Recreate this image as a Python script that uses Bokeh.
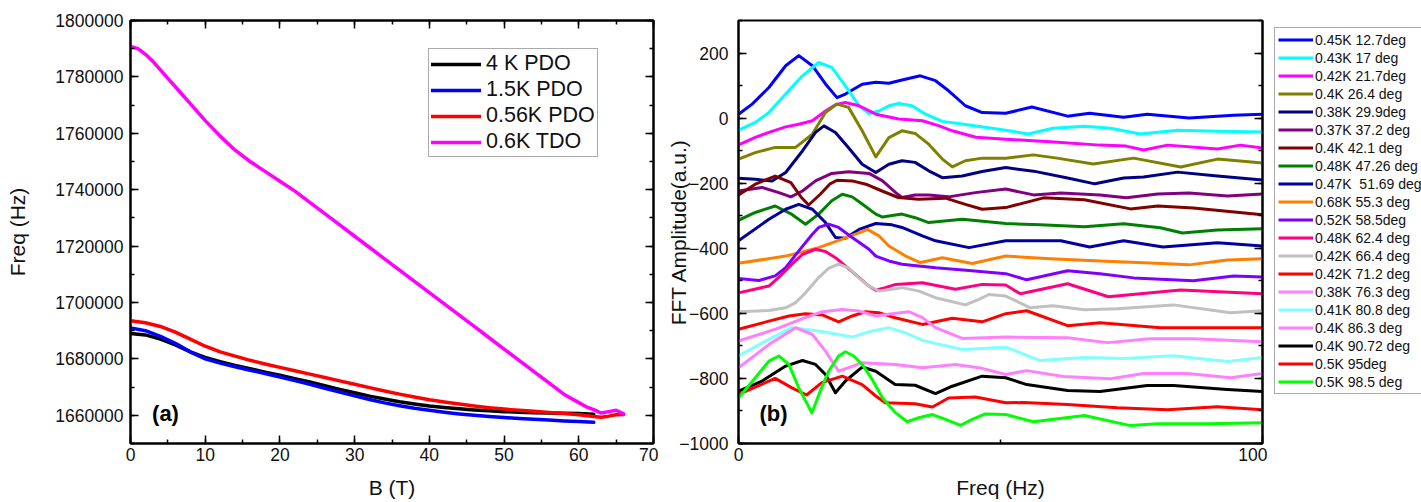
from bokeh.plotting import figure
from bokeh.models import (Range1d, LinearAxis, SingleIntervalTicker, FixedTicker,
                          Legend, LegendItem, Label, BasicTickFormatter)
from bokeh.layouts import row
from bokeh.embed import file_html
from bokeh.resources import INLINE

FONT = "Liberation Sans"

# ---------------- panel (a) data: frequency vs field ----------------
pdo4k_B = [0, 2, 4, 6, 8, 10, 12, 14, 16, 18, 20, 22, 24, 26, 28, 30, 32, 34, 36, 38,
           40, 42, 44, 46, 48, 50, 52, 54, 56, 58, 60, 62]
pdo4k_F = [1689000, 1688500, 1687000, 1685000, 1682500, 1680500, 1679000, 1677700, 1676500,
           1675300, 1674200, 1673000, 1671800, 1670500, 1669200, 1668000, 1666800, 1665800,
           1664800, 1664000, 1663300, 1662800, 1662300, 1661900, 1661600, 1661300, 1661100,
           1660900, 1660800, 1660700, 1660600, 1660400]

pdo15k_B = [0, 2, 4, 6, 8, 10, 12, 14, 16, 18, 20, 22, 24, 26, 28, 30, 32, 34, 36, 38,
            40, 42, 44, 46, 48, 50, 52, 54, 56, 58, 60, 62]
pdo15k_F = [1691000, 1690000, 1688000, 1685500, 1682500, 1680000, 1678500, 1677200, 1676000,
            1674800, 1673600, 1672300, 1671000, 1669600, 1668200, 1666900, 1665600, 1664400,
            1663400, 1662500, 1661800, 1661100, 1660500, 1660000, 1659600, 1659200, 1658900,
            1658600, 1658300, 1658000, 1657800, 1657500]

pdo056k_B = [0, 2, 4, 6, 8, 10, 12, 14, 16, 18, 20, 22, 24, 26, 28, 30, 32, 34, 36, 38,
             40, 42, 44, 46, 48, 50, 52, 54, 56, 58, 60, 62, 63, 64, 65, 66]
pdo056k_F = [1693500, 1692800, 1691500, 1689500, 1687000, 1684500, 1682500, 1681000, 1679500,
             1678200, 1677000, 1675800, 1674600, 1673400, 1672200, 1671000, 1669800, 1668600,
             1667500, 1666500, 1665500, 1664700, 1664000, 1663300, 1662700, 1662200, 1661800,
             1661400, 1661000, 1660600, 1660200, 1659600, 1659300, 1659700, 1660200, 1660300]

tdo06k_B = [0, 1, 2, 3, 4, 5, 6, 7, 8, 9, 10, 12, 14, 16, 18, 20, 22, 24, 26, 28, 30, 32,
            34, 36, 38, 40, 42, 44, 46, 48, 50, 52, 54, 56, 58, 60, 61, 62, 63, 64, 65, 66]
tdo06k_F = [1790800, 1790000, 1788000, 1785500, 1782500, 1779500, 1776500, 1773500, 1770500,
            1767500, 1764500, 1759000, 1754000, 1750000, 1746500, 1743000, 1739500, 1735500,
            1731500, 1727500, 1723500, 1719500, 1715500, 1711500, 1707500, 1703500, 1699500,
            1695500, 1691500, 1687500, 1683500, 1679500, 1675500, 1671500, 1667500, 1664500,
            1663000, 1662000, 1660800, 1661300, 1661800, 1660500]

series_a_labels = ["4 K PDO", "1.5K PDO", "0.56K PDO", "0.6K TDO"]

# ---------------- panel (b) data: FFT spectra (freq in Hz, amplitude in a.u.) ----------------
fft_f_01 = [0, 2.6, 5.8, 9, 11.5, 14.1, 16.6, 18.8, 20.4, 23.6, 26.2, 28.7, 31.2, 34.7, 37.6, 40.1,
            43.3, 46.5, 51, 56, 62.8, 67, 73.5, 78, 86, 94.5, 100]
fft_a_01 = [12, 43, 94, 161, 192, 161, 105, 63, 74, 104, 110, 107, 117, 130, 115, 84,
            38, 17, 15, 34, 6, 15, 3, 12, 0, 9, 12]
fft_f_02 = [0, 3.2, 5.8, 9, 12.2, 15.3, 17.8, 20.4, 23, 24.9, 26.8, 28.7, 30.6, 33.1, 35.7, 38.9,
            44, 51, 55.3, 60, 66, 71, 76.7, 83.8, 91.4, 100]
fft_a_02 = [-37, -13, 17, 74, 130, 171, 156, 99, 38, 14, 22, 38, 45, 38, 12, -10,
            -21, -37, -49, -31, -25, -31, -49, -37, -40, -43]
fft_f_03 = [0, 3.2, 5.8, 9, 11.5, 14.1, 16.6, 18.5, 20.4, 23, 26.2, 30.6, 35.1, 38.3, 40.8, 45.3,
            51, 59.5, 69, 74, 77.3, 81.9, 91.4, 95.8, 100]
fft_a_03 = [-82, -59, -44, -27, -19, -8, 22, 41, 48, 38, 12, -3, -8, -24, -39, -59,
            -65, -73, -83, -86, -98, -83, -95, -83, -92]
fft_f_04 = [0, 3.2, 7, 10.9, 14.1, 16.6, 18.8, 21, 23.6, 26.2, 28.7, 31.2, 33.7, 36.3, 38.9, 40.8,
            43.3, 46.5, 51, 56.3, 60.8, 67.7, 75.4, 84.4, 91.4, 100]
fft_a_04 = [-126, -106, -90, -90, -49, 17, 43, 33, -39, -119, -60, -39, -47, -80, -126, -150,
            -131, -123, -123, -113, -123, -141, -123, -150, -126, -138]
fft_f_05 = [0, 3.2, 6.4, 9, 12.2, 14.7, 16.3, 18.5, 21, 23.6, 26.2, 28.7, 31.2, 33.7, 36.3, 38.9,
            42.7, 46.5, 51, 56.3, 62.8, 68, 73.5, 77.3, 83.8, 91.4, 100]
fft_a_05 = [-185, -188, -193, -167, -101, -44, -24, -44, -91, -142, -167, -142, -131, -136, -162, -183,
            -178, -164, -152, -163, -184, -202, -184, -181, -166, -178, -190]
fft_f_06 = [0, 4.5, 7.7, 10, 12.2, 14.7, 17.8, 21, 24.9, 27.5, 30, 31.2, 33.7, 36.3, 40.1, 45.2,
            51, 56.3, 61.5, 69, 74, 80, 86, 93.3, 100]
fft_a_06 = [-224, -213, -229, -242, -224, -193, -170, -165, -170, -193, -229, -244, -236, -236, -242, -229,
            -218, -236, -230, -236, -245, -233, -230, -239, -233]
fft_f_07 = [0, 3.2, 7, 10, 12, 13.4, 15.6, 17.4, 18.8, 21.7, 24.3, 27.4, 30.5, 34.3, 39.5, 43.3,
            46.5, 51, 58.2, 66, 74.8, 80, 86.8, 100]
fft_a_07 = [-236, -203, -178, -198, -244, -267, -234, -203, -191, -193, -203, -224, -244, -249, -246, -265,
            -280, -275, -245, -251, -279, -270, -276, -297]
fft_f_08 = [0, 3.2, 7, 10.2, 12.8, 15.3, 17.8, 19.8, 21.7, 23.6, 26.2, 27.5, 31.2, 33.7, 36.3, 42.7,
            51, 57.6, 66, 73.5, 80.5, 84.7, 91.4, 100]
fft_a_08 = [-314, -290, -270, -296, -326, -295, -254, -234, -242, -264, -295, -304, -295, -306, -321, -311,
            -324, -328, -334, -325, -337, -353, -344, -340]
fft_f_09 = [0, 5.8, 9, 11.5, 14.1, 16.6, 18.5, 20.4, 23, 26.2, 29.3, 31.2, 35.1, 37.6, 44, 51,
            61.5, 67, 73.5, 81, 91.4, 100]
fft_a_09 = [-377, -311, -280, -265, -280, -321, -367, -369, -342, -324, -328, -336, -362, -377, -398, -377,
            -377, -396, -377, -396, -383, -393]
fft_f_10 = [0, 9, 15.3, 19.8, 23.6, 24.6, 26.8, 28.7, 31.9, 34.7, 38.9, 44.6, 51, 59.5, 69, 78.6,
            86, 93.3, 100]
fft_a_10 = [-446, -424, -398, -372, -349, -342, -362, -393, -424, -444, -429, -447, -424, -432, -439, -445,
            -451, -436, -432]
fft_f_11 = [0, 3.9, 7, 9, 11.5, 14.1, 15.3, 17.2, 19.1, 21.7, 24.9, 26.2, 28.7, 31.2, 37.6, 44,
            51, 55, 62.8, 69, 75.4, 86.8, 94.5, 100]
fft_a_11 = [-493, -499, -485, -460, -408, -357, -336, -326, -336, -367, -403, -424, -439, -449, -460, -468,
            -478, -497, -469, -478, -491, -500, -485, -488]
fft_f_12 = [0, 5.8, 8.3, 10.2, 12.2, 14.7, 16.6, 18.5, 20.4, 22.3, 24.9, 26.2, 28, 30, 35.1, 41.4,
            46.5, 51, 53.8, 62.8, 70.6, 76.7, 84.4, 100]
fft_a_12 = [-537, -516, -480, -449, -419, -403, -410, -429, -454, -480, -516, -529, -521, -511, -506, -526,
            -511, -513, -540, -509, -549, -540, -528, -540]
fft_f_13 = [0, 5.8, 9, 10.9, 12.8, 15.3, 17.2, 19.1, 21, 22.9, 24.9, 26.8, 29.3, 31.2, 34.3, 37.6,
            43.3, 45.9, 47.8, 51, 55.7, 60, 66, 72.3, 83, 93.9, 100]
fft_a_13 = [-595, -591, -583, -567, -537, -490, -462, -449, -460, -490, -516, -531, -526, -521, -531, -552,
            -574, -557, -542, -547, -583, -577, -589, -586, -574, -598, -592]
fft_f_14 = [0, 5.8, 9.6, 12.8, 16, 19.1, 21.7, 24.2, 26.8, 29.3, 35.1, 40.8, 46.5, 51, 55, 62.8,
            69, 80.5, 89.5, 100]
fft_a_14 = [-649, -624, -608, -601, -605, -626, -608, -595, -598, -611, -634, -615, -626, -601, -592, -638,
            -629, -644, -644, -644]
fft_f_15 = [0, 7, 12.2, 16, 19.8, 23, 26.2, 29.3, 32.5, 35.1, 37.6, 42.7, 51, 62.8, 70.4, 78.6,
            86.8, 100]
fft_a_15 = [-685, -649, -616, -595, -588, -593, -608, -601, -595, -613, -644, -677, -673, -675, -690, -678,
            -678, -687]
fft_f_16 = [0, 5.8, 10.2, 15.3, 21.7, 25.5, 28.7, 31.9, 35.1, 42.7, 51, 57.6, 66, 73.5, 83, 93.3, 100]
fft_a_16 = [-731, -680, -644, -654, -673, -654, -644, -660, -683, -711, -704, -745, -736, -739, -730, -748, -736]
fft_f_17 = [0, 5.8, 10.9, 14.1, 16.6, 19.1, 21, 23.6, 29.9, 35.1, 41.4, 46.5, 51, 55, 62, 71,
            77.3, 85.7, 93.9, 100]
fft_a_17 = [-767, -696, -644, -665, -716, -778, -767, -752, -757, -767, -757, -769, -788, -776, -794, -801,
            -785, -785, -798, -785]
fft_f_18 = [0, 4.5, 9, 12.2, 14.7, 16.6, 18.5, 20.4, 23.6, 26.2, 29.9, 33.7, 37.6, 40.8, 46.5, 51,
            55, 62.8, 69, 78, 83, 93.3, 100]
fft_a_18 = [-839, -808, -762, -745, -757, -788, -844, -808, -765, -778, -819, -821, -847, -824, -793, -798,
            -819, -837, -840, -822, -822, -834, -840]
fft_f_19 = [0, 7, 10.2, 13, 15.9, 19.8, 23.6, 26.2, 28, 33.7, 37, 40.1, 45.2, 51, 54.4, 62.8,
            72.3, 81.9, 91.4, 100]
fft_a_19 = [-849, -800, -829, -851, -813, -793, -819, -854, -875, -878, -888, -860, -857, -875, -874, -880,
            -890, -896, -887, -896]
fft_f_20 = [0, 3.2, 5.8, 7.7, 9.6, 11.5, 14, 15.6, 17.2, 19.1, 20.4, 22, 23.6, 25.5, 27.5, 30,
            32.2, 34.4, 37, 39.5, 42.4, 44.6, 47.1, 51, 56.3, 66, 74.8, 80, 89.5, 100]
fft_a_20 = [-860, -798, -747, -731, -757, -829, -906, -839, -778, -731, -718, -731, -757, -803, -860, -906,
            -933, -921, -911, -926, -944, -926, -909, -911, -933, -914, -945, -939, -939, -936]

fft_labels = ["0.45K 12.7deg", "0.43K 17 deg", "0.42K 21.7deg", "0.4K 26.4 deg",
              "0.38K 29.9deg", "0.37K 37.2 deg", "0.4K 42.1 deg", "0.48K 47.26 deg",
              "0.47K  51.69 deg", "0.68K 55.3 deg", "0.52K 58.5deg", "0.48K 62.4 deg",
              "0.42K 66.4 deg", "0.42K 71.2 deg", "0.38K 76.3 deg", "0.41K 80.8 deg",
              "0.4K 86.3 deg", "0.4K 90.72 deg", "0.5K 95deg", "0.5K 98.5 deg"]

# styles
colors_a = ["#000000", "#0000FF", "#FF0000", "#FF00FF"]
colors_b = ["#0000FF", "#00FFFF", "#FF00FF", "#808000", "#000080", "#800080", "#800000",
            "#008000", "#0000A0", "#FF8000", "#8000FF", "#FF0080", "#C0C0C0", "#FF0000",
            "#FF80FF", "#80FFFF", "#FF80FF", "#000000", "#FF0000", "#00FF00"]

fft_f = [fft_f_01, fft_f_02, fft_f_03, fft_f_04, fft_f_05, fft_f_06, fft_f_07, fft_f_08,
         fft_f_09, fft_f_10, fft_f_11, fft_f_12, fft_f_13, fft_f_14, fft_f_15, fft_f_16,
         fft_f_17, fft_f_18, fft_f_19, fft_f_20]
fft_a = [fft_a_01, fft_a_02, fft_a_03, fft_a_04, fft_a_05, fft_a_06, fft_a_07, fft_a_08,
         fft_a_09, fft_a_10, fft_a_11, fft_a_12, fft_a_13, fft_a_14, fft_a_15, fft_a_16,
         fft_a_17, fft_a_18, fft_a_19, fft_a_20]

TOP, FRAME_H, BOTTOM = 20, 423, 59


def style_axis(ax, ticker, standoff, show_labels=True):
    ax.ticker = ticker
    ax.axis_line_color = "black"
    ax.axis_line_width = 2
    ax.major_tick_in = 8
    ax.major_tick_out = 0
    ax.minor_tick_in = 4
    ax.minor_tick_out = 0
    ax.major_tick_line_width = 1.5
    ax.minor_tick_line_width = 1.5
    ax.major_label_text_font = FONT
    ax.axis_label_text_font = FONT
    ax.axis_label_text_font_size = "21px"
    ax.axis_label_text_font_style = "normal"
    ax.axis_label_text_color = "#111111"
    if show_labels:
        ax.major_label_text_font_size = "17.5px"
        ax.major_label_text_color = "#111111"
        ax.major_label_standoff = standoff
    else:
        ax.major_label_text_font_size = "0px"
        ax.major_label_text_color = None
        ax.major_label_standoff = 0


def base_fig(xr, yr, left, frame_w, right):
    p = figure(x_range=xr, y_range=yr, frame_width=frame_w, frame_height=FRAME_H,
               min_border_top=TOP, min_border_bottom=BOTTOM, min_border_left=left,
               min_border_right=right, output_backend="svg", toolbar_location=None,
               x_axis_location=None, y_axis_location=None, title=None)
    p.xgrid.visible = False
    p.ygrid.visible = False
    p.outline_line_color = "black"
    p.outline_line_width = 2
    p.background_fill_color = "white"
    p.border_fill_color = "white"
    return p


# ---------------- panel (a) ----------------
p1 = base_fig(Range1d(0, 70), Range1d(1650000, 1800000), 130, 523, 5)
xt1 = SingleIntervalTicker(interval=10, num_minor_ticks=2)
yt1 = SingleIntervalTicker(interval=20000, num_minor_ticks=2)

ax = LinearAxis(axis_label="B (T)")
style_axis(ax, xt1, 4, True)
ax.axis_label_standoff = 12
p1.add_layout(ax, "below")
ax = LinearAxis()
style_axis(ax, xt1, 0, False)
p1.add_layout(ax, "above")
ax = LinearAxis(axis_label="Freq (Hz)", formatter=BasicTickFormatter(use_scientific=False))
style_axis(ax, yt1, 7, True)
ax.axis_label_standoff = 23
p1.add_layout(ax, "left")
ax = LinearAxis()
style_axis(ax, yt1, 0, False)
p1.add_layout(ax, "right")

items_a = []
for lab, xs, ys, c in zip(series_a_labels, [pdo4k_B, pdo15k_B, pdo056k_B, tdo06k_B],
                          [pdo4k_F, pdo15k_F, pdo056k_F, tdo06k_F], colors_a):
    r = p1.line(xs, ys, line_color=c, line_width=3.5, line_join="round", line_cap="round")
    items_a.append(LegendItem(label=lab, renderers=[r]))

leg1 = Legend(items=items_a, location=(298, 286), label_text_font=FONT,
              label_text_font_size="21.5px", label_text_color="#111111",
              glyph_width=50, glyph_height=24, label_height=24, label_standoff=5,
              spacing=1, padding=2, margin=0, border_line_color="#555555",
              border_line_width=1, background_fill_alpha=1)
p1.add_layout(leg1, "center")

p1.add_layout(Label(x=35, y=30, x_units="screen", y_units="screen", text="(a)",
                    text_align="center", text_baseline="middle", text_font_style="bold",
                    text_font=FONT, text_font_size="22px", text_color="#000000"))

# ---------------- panel (b) ----------------
p2 = base_fig(Range1d(0, 100), Range1d(-1000, 300), 80, 524, 5)
xt2 = FixedTicker(ticks=[0, 100], minor_ticks=[50])
yt2 = SingleIntervalTicker(interval=200, num_minor_ticks=2)
ax = LinearAxis(axis_label="Freq (Hz)")
style_axis(ax, xt2, 4, True)
ax.axis_label_standoff = 12
p2.add_layout(ax, "below")
ax = LinearAxis(axis_label="FFT Amplitude(a.u.)")
style_axis(ax, yt2, 10, True)
ax.axis_label_standoff = -14
p2.add_layout(ax, "left")
ax = LinearAxis()
style_axis(ax, yt2, 0, False)
p2.add_layout(ax, "right")

for xs, ys, c in zip(fft_f, fft_a, colors_b):
    p2.line(xs, ys, line_color=c, line_width=3, line_join="round", line_cap="round")

p2.add_layout(Label(x=35, y=30, x_units="screen", y_units="screen", text="(b)",
                    text_align="center", text_baseline="middle", text_font_style="bold",
                    text_font=FONT, text_font_size="22px", text_color="#000000"))

# ---------------- legend strip for panel (b) ----------------
# same spectra drawn again, far outside this strip's visible range, only to key the legend
p3 = figure(frame_width=154, frame_height=FRAME_H, min_border_top=TOP,
            min_border_bottom=BOTTOM, min_border_left=0, min_border_right=0,
            x_range=Range1d(500, 600), y_range=Range1d(5000, 6000), output_backend="svg",
            toolbar_location=None, x_axis_location=None, y_axis_location=None, title=None)
p3.xgrid.visible = False
p3.ygrid.visible = False
p3.outline_line_color = None
p3.background_fill_color = "white"
p3.border_fill_color = "white"
items_b = []
for lab, xs, ys, c in zip(fft_labels, fft_f, fft_a, colors_b):
    key = p3.line(xs, ys, line_color=c, line_width=3)
    items_b.append(LegendItem(label=lab, renderers=[key]))
leg2 = Legend(items=items_b, location="top_left", label_text_font=FONT,
              label_text_font_size="14px", label_text_color="#111111",
              glyph_width=35, glyph_height=17, label_height=17, label_standoff=2,
              spacing=1, padding=3, margin=7, border_line_color="#555555",
              border_line_width=1, background_fill_alpha=1)
p3.add_layout(leg2, "center")

layout = row(p1, p2, p3)
open("out.html", "w").write(file_html(layout, INLINE))
